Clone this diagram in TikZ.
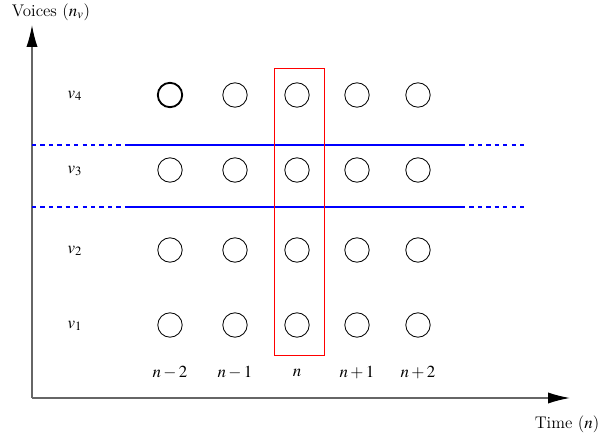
\documentclass[tikz,border=0pt]{standalone}
\usepackage{mathptmx}
\usetikzlibrary{arrows.meta}

\begin{document}
\begin{tikzpicture}[x=0.25mm, y=0.25mm, line cap=butt,
    note/.style={font=\fontsize{12}{14}\selectfont, inner sep=1pt},
    slot/.style={circle, draw, line width=0.6pt, minimum size=6.1mm, inner sep=0pt},
    axis/.style={line width=1pt, draw=black!60, -{Latex[length=5.5mm, width=2.8mm, black]}},
    band/.style={draw=blue, line width=0.8pt}]
  \useasboundingbox (0,0) rectangle (600,438);
  % Axes from a common origin, voices upward and time to the right.
  \coordinate (o) at (32,40);
  \coordinate (ytip) at (32,413);
  \coordinate (xtip) at (570,40);
  \draw[axis] (o) -- (ytip);
  \draw[axis] (o) -- (xtip);
  \node[note] (ylab) at (51,426) {Voices ($n_v$)};
  \node[note] (xlab) at (567,14) {Time ($n$)};
  % Voice names down the left side.
  \node[note] (v4) at (75,342) {$v_4$};
  \node[note] (v3) at (75,267) {$v_3$};
  \node[note] (v2) at (75,187) {$v_2$};
  \node[note] (v1) at (75,112) {$v_1$};
  % Time steps along the bottom.
  \node[note] (t1) at (170,65) {$n-2$};
  \node[note] (t2) at (235,65) {$n-1$};
  \node[note] (t3) at (297,65) {$n$};
  \node[note] (t4) at (357,65) {$n+1$};
  \node[note] (t5) at (418,65) {$n+2$};
  % The grid of notes, one circle per voice and step.
  \foreach \i/\px in {1/170,2/235,3/297,4/357,5/418}
    \foreach \j/\py in {1/113,2/188,3/268,4/343}
      \node[slot] (s\i\j) at (\px,\py) {};
  \node[slot, line width=1.3pt] at (s14) {};
  % Band round voice v3, dashed where it runs out past the notes.
  \draw[band] (127,293) -- (461,293);
  \draw[band] (127,231) -- (461,231);
  \draw[band, dashed] (32,293) -- (127,293);
  \draw[band, dashed] (32,231) -- (127,231);
  \draw[band, dashed] (461,293) -- (525,293);
  \draw[band, dashed] (461,231) -- (525,231);
  % Current time step picked out.
  \draw[red, line width=0.6pt] (274,83) rectangle (324,370);
\end{tikzpicture}
\end{document}
